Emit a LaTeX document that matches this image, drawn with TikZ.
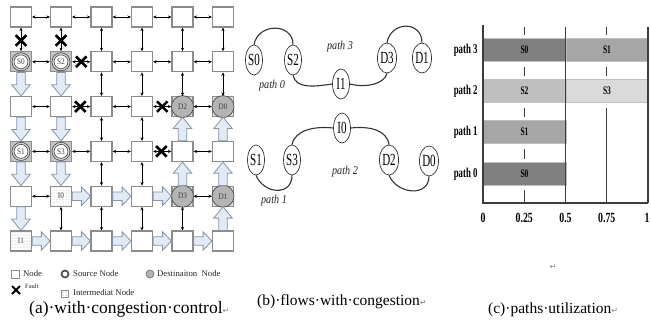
\documentclass[tikz,border=0pt]{standalone}
\usepackage{fontspec}
\setmainfont{Liberation Serif}
\newfontfamily\condA[FakeStretch=0.65]{Liberation Serif}
\newfontfamily\condB[FakeStretch=0.85]{Liberation Serif}
\newfontfamily\condC[FakeStretch=0.7]{Liberation Serif}
\newfontfamily\symb{DejaVu Sans}
\usetikzlibrary{calc,shapes.geometric,shapes.misc,patterns,arrows.meta}

\definecolor{boxgray}{HTML}{8C8C8C}
\definecolor{arrfill}{HTML}{E1EAF5}
\definecolor{arrdraw}{HTML}{8596AA}
\definecolor{destfill}{HTML}{B4B4B4}
\definecolor{txtgray}{HTML}{404040}
\definecolor{barA}{HTML}{808080}
\definecolor{barB}{HTML}{A6A6A6}
\definecolor{barC}{HTML}{BFBFBF}
\definecolor{barD}{HTML}{DADADA}
\definecolor{gridc}{HTML}{3C3C3C}

\newcommand\retsym{{\symb\fontsize{8}{8}\selectfont\color{gray}↵}}
\newcommand\blockarr[2]{%
  \path (#1) coordinate (bas) (#2) coordinate (bae);
  \path ($(bae)!0.48!(bas)$) coordinate (bah);
  \draw[bigarr] ($(bas)!4.3pt!90:(bae)$) -- ($(bah)!4.3pt!90:(bae)$) --
    ($(bah)!9.3pt!90:(bae)$) -- (bae) -- ($(bah)!9.3pt!-90:(bae)$) --
    ($(bah)!4.3pt!-90:(bae)$) -- ($(bas)!4.3pt!-90:(bae)$) -- cycle;}

\tikzset{
  gbox/.style={rectangle, draw=boxgray, line width=1.2pt, fill=white,
    minimum width=21pt, minimum height=20pt, inner sep=0pt},
  srcbox/.style={gbox, fill=gray!45},
  dstbox/.style={gbox, fill=gray!25},
  nlabel/.style={font=\condB\fontsize{8.5}{9}\selectfont, text=txtgray},
  srccirc/.style={circle, draw=black!75, line width=0.7pt, double=gray!35,
    double distance=1.3pt, fill=white, minimum size=16pt, inner sep=0pt, nlabel},
  dstcirc/.style={ellipse, draw=black!70, line width=0.7pt, fill=destfill,
    minimum width=22pt, minimum height=22pt, inner sep=0pt, nlabel},
  midbox/.style={gbox, preaction={fill=white}, pattern=dots, pattern color=gray!80, nlabel},
  dbl/.style={{Stealth[length=3.5pt,width=3.2pt]}-{Stealth[length=3.5pt,width=3.2pt]},
    line width=0.8pt, black},
  faultx/.style={cross out, draw=black, line width=2.6pt, minimum size=8pt, inner sep=0pt},
  bigarr/.style={draw=arrdraw, fill=arrfill, line width=0.8pt, line join=miter},
  lgtext/.style={anchor=west, inner sep=0pt, font=\fontsize{8.7}{9}\selectfont, text=black!85},
  ell/.style={ellipse, draw=black!80, line width=0.7pt, fill=white, minimum width=17pt,
    minimum height=30pt, inner sep=0pt, font=\condA\fontsize{17}{17}\selectfont},
  pline/.style={draw=black!80, line width=1.1pt},
  plabel/.style={font=\condB\itshape\fontsize{12}{12}\selectfont, text=black!85},
  bar/.style={rectangle, anchor=west, minimum width=82.5pt, minimum height=23pt,
    inner sep=0pt, draw=black!25, line width=0.4pt,
    font=\condA\bfseries\fontsize{11.5}{11}\selectfont},
  gridln/.style={draw=gridc, line width=1pt},
  axisln/.style={draw=gridc, line width=1.1pt},
  ylab/.style={anchor=east, font=\condA\bfseries\fontsize{13.5}{13}\selectfont},
  xlab/.style={anchor=base, font=\condC\bfseries\fontsize{14}{13}\selectfont},
  captext/.style={anchor=base west, inner sep=0pt},
}

\begin{document}
\begin{tikzpicture}[x=1pt,y=-1pt]
\useasboundingbox (0,0) rectangle (651,322);
\fill[white] (0,0) rectangle (651,322);

% ---------------- panel (a) ----------------
\foreach \r/\y in {1/17,2/61.8,3/106.6,4/151.4,5/196.2,6/241}{
  \foreach \c/\x in {1/21,2/61,3/101.5,4/142,5/182.5,6/223}{
    \node[gbox] (r\r-\c) at (\x,\y) {};
  }
}
% sources
\node[srcbox] (S0b) at (r2-1) {}; \node[srccirc] (S0n) at (r2-1) {S0};
\node[srcbox] (S2b) at (r2-2) {}; \node[srccirc] (S2n) at (r2-2) {S2};
\node[srcbox] (S1b) at (r4-1) {}; \node[srccirc] (S1n) at (r4-1) {S1};
\node[srcbox] (S3b) at (r4-2) {}; \node[srccirc] (S3n) at (r4-2) {S3};
% destinations
\node[dstbox] (D2b) at (r3-5) {}; \node[dstcirc] (D2n) at (r3-5) {D2};
\node[dstbox] (D0b) at (r3-6) {}; \node[dstcirc] (D0n) at (r3-6) {D0};
\node[dstbox] (D3b) at (r5-5) {}; \node[dstcirc] (D3n) at (r5-5) {D3};
\node[dstbox] (D1b) at (r5-6) {}; \node[dstcirc] (D1n) at (r5-6) {D1};
% intermediates
\node[midbox] (I0n) at (r5-2) {I0};
\node[midbox] (I1n) at (r6-1) {I1};

% big arrows
\blockarr{r2-1.south}{r3-1.north}
\blockarr{r2-2.south}{r3-2.north}
\blockarr{r3-1.south}{r4-1.north}
\blockarr{r3-2.south}{r4-2.north}
\blockarr{r4-1.south}{r5-1.north}
\blockarr{r4-2.south}{r5-2.north}
\blockarr{r5-1.south}{r6-1.north}
\blockarr{r4-5.north}{r3-5.south}
\blockarr{r4-6.north}{r3-6.south}
\blockarr{r5-5.north}{r4-5.south}
\blockarr{r5-6.north}{r4-6.south}
\blockarr{r6-6.north}{r5-6.south}
\blockarr{r5-2.east}{r5-3.west}
\blockarr{r5-3.east}{r5-4.west}
\blockarr{r5-4.east}{r5-5.west}
\blockarr{r6-1.east}{r6-2.west}
\blockarr{r6-2.east}{r6-3.west}
\blockarr{r6-3.east}{r6-4.west}
\blockarr{r6-4.east}{r6-5.west}
\blockarr{r6-5.east}{r6-6.west}

% double arrows
\foreach \a/\b in {r1-1/r1-2,r1-2/r1-3,r1-3/r1-4,r1-4/r1-5,r1-5/r1-6,
  r2-1/r2-2,r2-2/r2-3,r2-3/r2-4,r2-4/r2-5,r2-5/r2-6,
  r3-1/r3-2,r3-2/r3-3,r3-3/r3-4,r3-4/r3-5,r3-5/r3-6,
  r4-1/r4-2,r4-2/r4-3,r4-3/r4-4,r4-4/r4-5,r4-5/r4-6,
  r5-1/r5-2,r5-5/r5-6,
  r1-1/r2-1,r1-2/r2-2,r1-3/r2-3,r1-4/r2-4,r1-5/r2-5,r1-6/r2-6,
  r2-3/r3-3,r2-4/r3-4,r2-5/r3-5,r2-6/r3-6,
  r3-3/r4-3,r3-4/r4-4,r4-3/r5-3,r4-4/r5-4,
  r5-2/r6-2,r5-3/r6-3,r5-4/r6-4,r5-5/r6-5}
  {\draw[dbl] (\a) -- (\b);}

% faults
\node[faultx] (f1) at ($(r1-1.south)!0.55!(r2-1.north)$) {};
\node[faultx] (f2) at ($(r1-2.south)!0.55!(r2-2.north)$) {};
\node[faultx] (f3) at ($(r2-2.east)!0.5!(r2-3.west)$) {};
\node[faultx] (f4) at ($(r3-2.east)!0.45!(r3-3.west)$) {};
\node[faultx] (f5) at ($(r3-4.east)!0.5!(r3-5.west)$) {};
\node[faultx] (f6) at ($(r4-4.east)!0.45!(r4-5.west)$) {};

% legend
\node[gbox, minimum width=8pt, minimum height=8pt, line width=0.6pt] (lgn) at (15,274) {};
\node[lgtext] (lgnt) at (23,274) {Node};
\node[circle, draw=black!70, line width=1.7pt, fill=white, minimum size=7pt, inner sep=0pt] (lgs) at (65,274) {};
\node[lgtext] (lgst) at (73,274) {Source Node};
\node[circle, draw=black!60, line width=0.6pt, fill=destfill, minimum size=8pt, inner sep=0pt] (lgd) at (150,274) {};
\node[lgtext] (lgdt) at (157,274) {Destinaiton \ Node};
\node[faultx, minimum size=6pt, line width=2pt] (lgf) at (16,290) {};
\node[lgtext, font=\fontsize{6.5}{7}\selectfont] (lgft) at (25,286) {Fault};
\node[gbox, minimum width=7pt, minimum height=7pt, line width=0.5pt, preaction={fill=white}, pattern=dots, pattern color=gray] (lgi) at (65,294) {};
\node[lgtext] (lgit) at (73,293) {Intermediat Node};

\node[captext, font=\fontsize{17.5}{20}\selectfont] (capa) at (29,313) {(a)·with·congestion·control\retsym};

% ---------------- panel (b) ----------------
\node[ell] (bS0) at (254,60) {S0};
\node[ell] (bS2) at (293,60) {S2};
\node[ell] (bI1) at (341,84) {I1};
\node[ell] (bD3) at (387,58) {D3};
\node[ell] (bD1) at (422,58) {D1};
\node[ell] (bI0) at (342,128) {I0};
\node[ell] (bS1) at (256,160) {S1};
\node[ell] (bS3) at (292,160) {S3};
\node[ell] (bD2) at (389,160) {D2};
\node[ell] (bD0) at (429,161) {D0};

\draw[pline] (bS0.north) .. controls +(4,-22) and +(0,-22) .. (bS2.north);
\draw[pline] (bS2.south) .. controls +(3,13) and +(-20,3) .. (bI1.west);
\draw[pline] (bI1.east) .. controls +(16,4) and +(-3,11) .. (bD3.south);
\draw[pline] (bD3.north) .. controls +(4,-22) and +(0,-22) .. (bD1.north);
\draw[pline] (bS3.north) .. controls +(3,-15) and +(-18,-2) .. (bI0.west);
\draw[pline] (bI0.east) .. controls +(18,-2) and +(-2,-15) .. (bD2.north);
\draw[pline] (bS1.south) .. controls +(8,19) and +(0,21) .. (bS3.south);
\draw[pline] (bD2.south) .. controls +(8,19) and +(0,21) .. (bD0.south);

\node[plabel] (lp3) at (340,47) {path 3};
\node[plabel] (lp0) at (272,86) {path 0};
\node[plabel] (lp2) at (345,172) {path 2};
\node[plabel] (lp1) at (274,201) {path 1};

\node[captext, font=\fontsize{15.5}{18}\selectfont] (capb) at (257,305) {(b)·flows·with·congestion\retsym};

% ---------------- panel (c) ----------------
\draw[gridln] (524.25,27) -- (524.25,203);
\draw[gridln] (606.75,27) -- (606.75,203);
\fill[white] (484,34.5) rectangle (647,66.5);
\fill[white] (484,75.5) rectangle (647,107.5);
\fill[white] (484,116.5) rectangle (565,148.5);
\fill[white] (484,158.5) rectangle (565,189.5);
\node[bar, fill=barA] (b3a) at (483,50) {S0};
\node[bar, fill=barB] (b3b) at (565.5,50) {S1};
\node[bar, fill=barC] (b2a) at (483,91) {S2};
\node[bar, fill=barD] (b2b) at (565.5,91) {S3};
\node[bar, fill=barB] (b1a) at (483,132) {S1};
\node[bar, fill=barA] (b0a) at (483,174) {S0};
\draw[axisln] (483,25) -- (483,203) -- (648,203);
\draw[axisln] (565.5,27) -- (565.5,203);
\draw[axisln] (648,27) -- (648,203);

\node[ylab] (y3) at (481,50) {path 3};
\node[ylab] (y2) at (481,91) {path 2};
\node[ylab] (y1) at (481,132) {path 1};
\node[ylab] (y0) at (481,174) {path 0};
\node[xlab] (x0) at (483,222) {0};
\node[xlab] (x1) at (524.25,222) {0.25};
\node[xlab] (x2) at (565.5,222) {0.5};
\node[xlab] (x3) at (606.75,222) {0.75};
\node[xlab] (x4) at (647,222) {1};

\node[inner sep=0pt] (retc) at (553,267) {\retsym};
\node[captext, font=\fontsize{15.5}{18}\selectfont] (capc) at (488,313) {(c)·paths·utilization\retsym};
\end{tikzpicture}
\end{document}
